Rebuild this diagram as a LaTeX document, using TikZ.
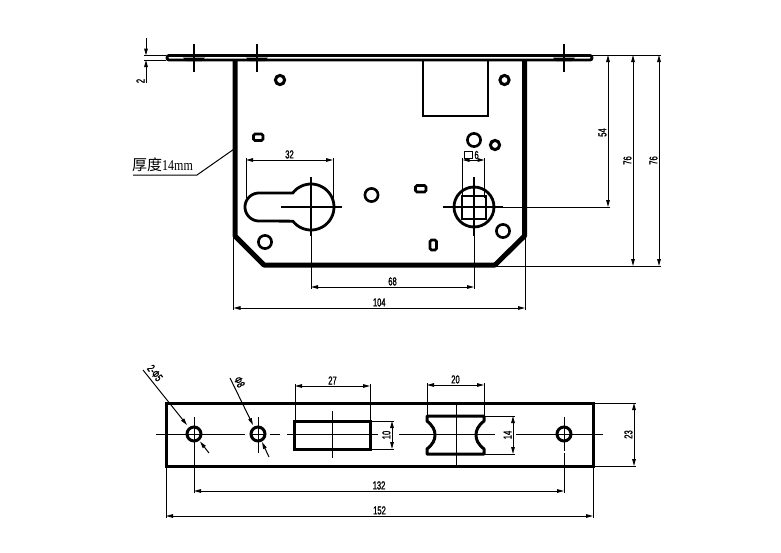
\documentclass[tikz,border=0pt]{standalone}
\usepackage{fontspec}
\usepackage{graphicx}
\setmainfont{Liberation Sans}
\newfontfamily\cjkf{Noto Sans CJK SC}
\newfontfamily\serf{Liberation Serif}
\newfontfamily\dimf[FakeBold=1.6]{Liberation Sans}
\usetikzlibrary{arrows.meta}
\newcommand{\dt}[1]{\scalebox{0.66}[1]{\dimf #1}}
\tikzset{
  thin line/.style={line width=1pt,draw=black},
  heavy/.style={line width=2.8pt,draw=black},
  body/.style={line width=5pt,draw=black,line join=round},
  cline/.style={line width=2.2pt,draw=black},
  dim/.style={line width=1pt,draw=black,{Stealth[length=7pt,width=3.6pt,inset=0pt]}-{Stealth[length=7pt,width=3.6pt,inset=0pt]}},
  lead/.style={line width=1pt,draw=black,-{Stealth[length=7pt,width=3.6pt,inset=0pt]}},
  dimtext/.style={font=\fontsize{11.5}{11.5}\selectfont,inner sep=0pt},
  vtext/.style={dimtext,rotate=90,anchor=south,outer sep=1.5pt},
}
\begin{document}
\begin{tikzpicture}[x=1pt,y=-1pt]
\path[use as bounding box,fill=white] (0,0) rectangle (781,552);

% --- top plate
\draw[heavy,rounded corners=2pt] (167,55.5) rectangle (592,60);
\foreach \cx in {194,257,564}{
  \fill (\cx-11,57.5) -- (\cx+11,57.5) -- (\cx+8,61) -- (\cx-8,61) -- cycle;
  \draw[cline] (\cx,44) -- (\cx,71.5);
}
% --- body
\draw[body] (235,61) -- (235,236) -- (264,265) -- (495,265) -- (524.5,236) -- (524.5,61);
\draw[heavy] (423,61) -- (423,116) -- (488,116) -- (488,61);

% --- holes
\foreach \hx/\hy in {280/80,504.5/80,495/145}
  \draw[line width=3pt] (\hx,\hy) circle[radius=4.6pt];
\foreach \hx/\hy in {474/140,371.5/195,265/242,503/231}
  \draw[line width=2.6pt] (\hx,\hy) circle[radius=6.6pt];
\draw[heavy,rounded corners=1.5pt] (253.5,134) rectangle (263,140.5);
\draw[heavy,rounded corners=1.5pt] (415.5,185.5) rectangle (426,192);
\draw[heavy,rounded corners=1.5pt] (430,240) rectangle (436.5,250);

% --- keyhole
\draw[heavy,line join=round] (259,193) -- (293,193)
  -- plot[domain=-142:142,samples=50] ({311+23*cos(\x)},{207+23*sin(\x)})
  -- (259,221)
  -- plot[domain=90:270,samples=25] ({259+14*cos(\x)},{207+14*sin(\x)}) -- cycle;
\draw[cline] (281,207) -- (342,207);
\draw[cline] (311,177) -- (311,236);

% --- square spindle
\draw[heavy] (474,207) circle[radius=20pt];
\draw[heavy] (462,196) rectangle (486,219);
\draw[cline] (443,207) -- (503,207);
\draw[cline] (474,177) -- (474,236);

% --- upper view dimensions
\draw[thin line] (246,158) -- (246,198);
\draw[thin line] (333,158) -- (333,199);
\draw[dim] (246,160) -- node[dimtext,above=1pt] {\dt{32}} (333,160);

\draw[thin line] (462.5,158) -- (462.5,198);
\draw[thin line] (484.5,158) -- (484.5,198);
\draw[dim] (462.5,160) -- (484.5,160);
\node[draw,line width=1pt,minimum size=7.5pt,inner sep=0pt] (sq) at (468.5,155) {};
\node[dimtext,right=1.5pt] at (sq.east) {\dt{6}};

\draw[thin line] (311,236) -- (311,289);
\draw[thin line] (474,236) -- (474,289);
\draw[dim] (311,287) -- node[dimtext,above=1pt] {\dt{68}} (474,287);

\draw[thin line] (233.5,236) -- (233.5,310);
\draw[thin line] (525,236) -- (525,310);
\draw[dim] (233.5,308) -- node[dimtext,above=1pt] {\dt{104}} (525,308);

\draw[thin line] (592,55) -- (661,55);
\draw[thin line] (503,207) -- (610,207);
\draw[thin line] (495,266) -- (661,266);
\draw[dim] (608,55) -- node[vtext,pos=0.51] {\dt{54}} (608,207);
\draw[dim] (633,55) -- node[vtext] {\dt{76}} (633,266);
\draw[dim] (659,55) -- node[vtext] {\dt{76}} (659,266);

% --- thickness 2
\draw[thin line] (144,55.5) -- (166,55.5);
\draw[thin line] (144,60) -- (166,60);
\draw[lead] (146,38) -- (146,55.5);
\draw[lead] (146,83) -- (146,60);
\node[dimtext,rotate=90] at (140.5,81) {\dt{2}};

% --- leader text
\coordinate (lA) at (133,175);
\coordinate (lB) at (197,175);
\coordinate (lC) at (237,147);
\draw[thin line] (lA) -- (lB) -- (lC);
\node[anchor=west,inner sep=0pt] at (132,165) {\fontsize{15}{15}\selectfont\cjkf 厚度\serf\scalebox{0.8}[1]{14mm}};

% --- lower view
\draw[line width=3pt] (166,403) rectangle (593,466);
\foreach \a/\b in {156/245,251/265,270/280,287/378,399/495,516/603}
  \draw[thin line] (\a,434) -- (\b,434);
\foreach \hx in {194,258,564}
  \draw[line width=3pt] (\hx,434) circle[radius=7pt];
\draw[thin line] (194,417) -- (194,493);
\draw[thin line] (258,417) -- (258,453);
\draw[thin line] (564,417) -- (564,451);
\draw[thin line] (564,453) -- (564,493);

\draw[lead] (143,370) -- (187,425);
\draw[lead] (209,453) -- (200,441.5);
\node[dimtext,rotate=-52] at (155,373) {\dt{2-Φ5}};
\draw[lead] (230,378) -- (253,425);
\draw[lead] (269,457) -- (262,442);
\node[dimtext,rotate=-63] at (239.5,382) {\dt{Φ8}};

\draw[line width=3pt] (294,421) rectangle (370,449);
\draw[thin line] (332,411) -- (332,458);
\draw[thin line] (295,384) -- (295,421);
\draw[thin line] (370,384) -- (370,421);
\draw[dim] (295,386) -- node[dimtext,above=1pt] {\dt{27}} (370,386);
\draw[thin line] (370,421) -- (394,421);
\draw[thin line] (370,449) -- (394,449);
\draw[dim] (392,421) -- node[vtext] {\dt{10}} (392,449);

\draw[line width=3pt,line join=round] (427,416) -- (484,416) -- (484,421)
  .. controls (478,426) and (476,430) .. (476,435)
  .. controls (476,440) and (478,444) .. (484,449)
  -- (484,454) -- (427,454) -- (427,449)
  .. controls (433,444) and (435,440) .. (435,435)
  .. controls (435,430) and (433,426) .. (427,421) -- cycle;
\draw[thin line] (456,403) -- (456,466);
\draw[thin line] (427,383) -- (427,416);
\draw[thin line] (484,383) -- (484,416);
\draw[dim] (427,385) -- node[dimtext,above=1pt] {\dt{20}} (484,385);
\draw[thin line] (484,416) -- (515,416);
\draw[thin line] (484,454) -- (515,454);
\draw[dim] (513,416) -- node[vtext] {\dt{14}} (513,454);

\draw[thin line] (593,403) -- (636,403);
\draw[thin line] (593,466) -- (636,466);
\draw[dim] (634,403) -- node[vtext] {\dt{23}} (634,466);

\draw[dim] (194,491) -- node[dimtext,above=1pt] {\dt{132}} (564,491);
\draw[thin line] (166,466) -- (166,518);
\draw[thin line] (593,466) -- (593,518);
\draw[dim] (166,516) -- node[dimtext,above=1pt] {\dt{152}} (593,516);
\end{tikzpicture}
\end{document}
